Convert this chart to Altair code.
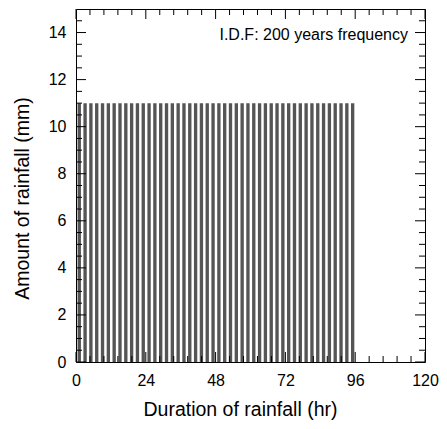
import altair as alt
import pandas as pd

# Data: 2-hour rainfall blocks (end hour of each block) and rainfall amount (mm)
hour_end = [2, 4, 6, 8, 10, 12, 14, 16, 18, 20, 22, 24,
            26, 28, 30, 32, 34, 36, 38, 40, 42, 44, 46, 48,
            50, 52, 54, 56, 58, 60, 62, 64, 66, 68, 70, 72,
            74, 76, 78, 80, 82, 84, 86, 88, 90, 92, 94, 96]
rain_mm = [11.0, 11.0, 11.0, 11.0, 11.0, 11.0, 11.0, 11.0, 11.0, 11.0, 11.0, 11.0,
           11.0, 11.0, 11.0, 11.0, 11.0, 11.0, 11.0, 11.0, 11.0, 11.0, 11.0, 11.0,
           11.0, 11.0, 11.0, 11.0, 11.0, 11.0, 11.0, 11.0, 11.0, 11.0, 11.0, 11.0,
           11.0, 11.0, 11.0, 11.0, 11.0, 11.0, 11.0, 11.0, 11.0, 11.0, 11.0, 11.0]

x_major = [0, 24, 48, 72, 96, 120]
x_minor = [4.8, 9.6, 14.4, 19.2, 28.8, 33.6, 38.4, 43.2, 52.8, 57.6, 62.4, 67.2,
           76.8, 81.6, 86.4, 91.2, 100.8, 105.6, 110.4, 115.2]
y_major = [0, 2, 4, 6, 8, 10, 12, 14]
y_minor = [0.5, 1, 1.5, 2.5, 3, 3.5, 4.5, 5, 5.5, 6.5, 7, 7.5, 8.5, 9, 9.5,
           10.5, 11, 11.5, 12.5, 13, 13.5, 14.5]

annotation = "I.D.F: 200 years frequency"

W, H = 349, 353
FONT = "Liberation Sans"

bars_df = pd.DataFrame({"hour": hour_end, "rain": rain_mm})

xscale = alt.Scale(domain=[0, 120], nice=False, zero=False)
yscale = alt.Scale(domain=[0, 15], nice=False, zero=False)

xaxis = alt.Axis(values=x_major, title="Duration of rainfall (hr)",
                 ticks=False, tickSize=0, domain=False, grid=False,
                 labelFont=FONT, labelFontSize=16, labelColor="black",
                 labelPadding=10, titleFont=FONT, titleFontSize=19.5,
                 titleFontWeight="normal", titleColor="black",
                 titlePadding=12, titleX=164, labelFlush=False)
yaxis = alt.Axis(values=y_major, title="Amount of rainfall (mm)",
                 ticks=False, tickSize=0, domain=False, grid=False,
                 labelFont=FONT, labelFontSize=16, labelColor="black",
                 labelPadding=10, titleFont=FONT, titleFontSize=19.5,
                 titleFontWeight="normal", titleColor="black",
                 titlePadding=16, titleY=189, labelFlush=False)

bars = alt.Chart(bars_df).transform_calculate(
    x0="datum.hour - 1.45", x1="datum.hour - 0.3"
).mark_bar(color="#555555").encode(
    x=alt.X("x0:Q", scale=xscale, axis=xaxis),
    x2="x1:Q",
    y=alt.Y("rain:Q", scale=yscale, axis=yaxis),
    y2=alt.datum(0),
)

def xticks(vals, length):
    df = pd.DataFrame({"v": vals})
    base = alt.Chart(df).mark_rule(color="black", strokeWidth=1)
    bottom = base.encode(x=alt.X("v:Q", scale=xscale, axis=xaxis),
                         y=alt.value(H), y2=alt.value(H - length))
    top = base.encode(x=alt.X("v:Q", scale=xscale, axis=xaxis),
                      y=alt.value(0), y2=alt.value(length))
    return [bottom, top]

def yticks(vals, length):
    df = pd.DataFrame({"v": vals})
    base = alt.Chart(df).mark_rule(color="black", strokeWidth=1)
    left = base.encode(y=alt.Y("v:Q", scale=yscale, axis=yaxis),
                       x=alt.value(0), x2=alt.value(length))
    right = base.encode(y=alt.Y("v:Q", scale=yscale, axis=yaxis),
                        x=alt.value(W), x2=alt.value(W - length))
    return [left, right]

label = alt.Chart(pd.DataFrame({"t": [annotation]})).mark_text(
    font=FONT, fontSize=16, align="right", baseline="alphabetic", color="black"
).encode(text="t:N", x=alt.value(W - 17), y=alt.value(31))

layers = [bars] + xticks(x_major, 10) + xticks(x_minor, 6) + \
    yticks(y_major, 10) + yticks(y_minor, 6) + [label]

chart = alt.layer(*layers).properties(
    width=W, height=H,
    autosize=alt.AutoSizeParams(type="none"),
    padding={"left": 68, "top": 1, "right": 14, "bottom": 59},
).configure_view(stroke="black", strokeWidth=1)

chart.save("out.html", embed_options={"renderer": "svg", "actions": False})
